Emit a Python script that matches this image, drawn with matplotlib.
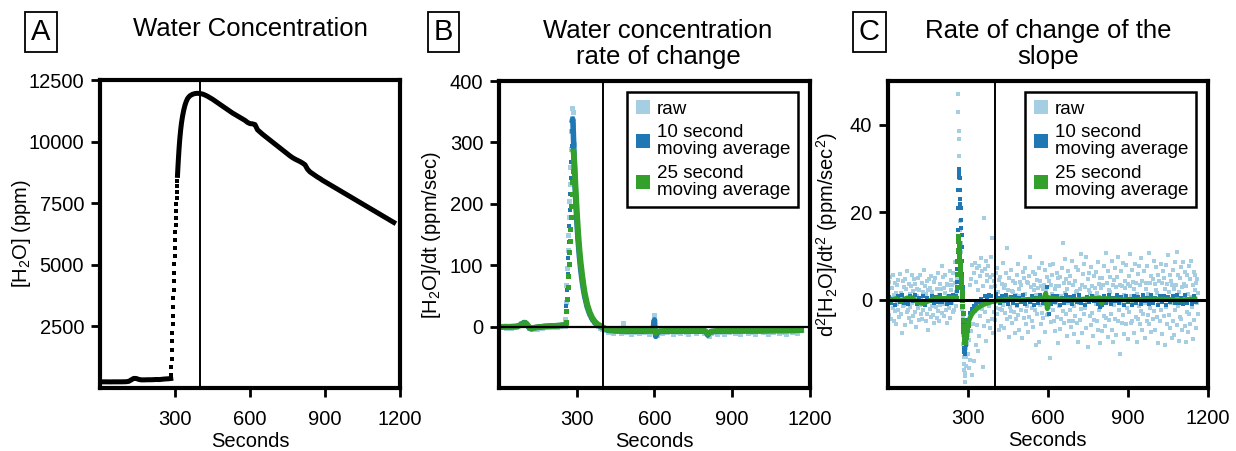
import numpy as np
from matplotlib import pyplot as plt
from matplotlib.lines import Line2D

plt.rcParams['font.family'] = 'Liberation Sans'
plt.rcParams['mathtext.fontset'] = 'custom'
plt.rcParams['mathtext.rm'] = 'Liberation Sans'
plt.rcParams['mathtext.default'] = 'regular'

LIGHT = '#a6cee3'
BLUE = '#1f78b4'
GREEN = '#33a02c'

# ---------------- A: water concentration (ppm) ----------------
a_flat_sec = [5, 15, 25, 35, 45, 55, 65, 75, 85, 95, 105, 115, 125, 135, 145,
              155, 165, 175, 185, 195, 205, 215, 225, 235, 245, 255, 265, 275, 283]
a_flat_ppm = [250, 250, 250, 248, 248, 250, 250, 250, 250, 252, 255, 270, 330, 390, 385,
              350, 330, 330, 333, 335, 335, 340, 345, 342, 350, 362, 370, 375, 385]

# fast rise, one reading per second
a_rise_sec = list(range(284, 311))
a_rise_ppm = [530, 850, 1190, 1540, 1890, 2240, 2590, 2940, 3290, 3640,
              3990, 4340, 4680, 5020, 5360, 5690, 6010, 6320, 6620, 6910,
              7190, 7460, 7720, 7970, 8200, 8420, 8630]

a_curve_sec = ([310, 312, 314, 316, 318, 320, 323, 326, 330, 335, 340, 345, 350,
                355, 360, 370, 380, 390] + list(range(400, 1171, 10)) + [1175])
a_curve_ppm = [8630, 9010, 9360, 9680, 9960, 10200, 10510, 10760, 11020, 11280, 11480,
               11630, 11740, 11810, 11860, 11920, 11950, 11960,
               11950, 11930, 11890, 11840, 11780, 11720, 11650, 11580, 11510, 11440,
               11370, 11300, 11230, 11160, 11100, 11040, 10980, 10920, 10860, 10780,
               10730, 10720, 10690, 10480, 10390, 10300, 10220, 10140, 10060, 9980,
               9900, 9820, 9740, 9660, 9580, 9500, 9420, 9350, 9290, 9240,
               9190, 9130, 9060, 8880, 8770, 8700, 8630, 8560, 8500, 8430,
               8370, 8310, 8250, 8190, 8130, 8070, 8010, 7950, 7890, 7830,
               7770, 7710, 7650, 7590, 7530, 7470, 7410, 7350, 7290, 7230,
               7170, 7110, 7050, 6990, 6930, 6870, 6810, 6750,
               6720]

# ---------------- B: first derivative (ppm/sec) ----------------
b_raw_sec = np.concatenate([np.arange(5, 255, 10), np.arange(252, 301, 2),
                            np.arange(304, 401, 4), np.arange(410, 1161, 10)])
b_raw_pre = [-1.2, 1.6, -2.3, 0.4, -1.7, 1.1, -0.6, 3.2, 5.4, 7.6, 4.3, -2.2, -4.6, -1.3, -3.1,
             0.2, -2.4, 1.7, -1.1, 2.3, -0.7, 2.6, -0.2, 3.3, 1.4]
b_raw_rise = [2, 1, 12, 40, 68, 95, 125, 150, 178, 205, 232, 260, 290, 318, 340,
              356, 350, 330, 298, 262, 238, 222, 205, 188, 172]
b_raw_decay = [150, 130, 112, 97, 84, 72, 61, 51, 43, 36, 30, 25, 20, 16, 13,
               10, 8, 5, 4, 1, 2, -2, -1, -4, -3]
b_raw_post = [-6.3, -9.1, -4.4, -10.8, -7.2, -3.5, -9.7, 5.2, -8.4, -5.6,
              -11.7, -4.8, -8.3, -10.2, -4.1, -9.4, -6.6, -11.3, -5.9, 18.2,
              -13.8, -7.7, -11.1, -5.3, -8.8, -6.9, -12.2, -5.7, -8.2, -10.1,
              -4.6, -9.3, -11.8, -7.4, -3.9, -10.5, -7.8, -6.1, -10.9, -8.6,
              -14.6, -9.8, -6.8, -11.4, -5.2, -8.1, -12.3, -6.4, -9.2, -4.3,
              -10.3, -7.3, -11.9, -7.9, -5.1, -10.7, -6.2, -9.0, -12.8, -7.1,
              -4.2, -9.6, -8.4, -11.6, -6.3, -8.9, -5.4, -10.9, -7.4, -8.1,
              -11.5, -5.3, -8.7, -6.8, -9.9, -5.8]

b10_base_sec = [6, 20, 40, 60, 70, 80, 90, 95, 100, 105, 110, 115, 120, 125, 130,
                140, 160, 180, 200, 220, 240, 250, 256]
b10_base = [-0.5, 0, -0.5, 0, 0.5, 2.5, 5, 6.5, 6.5, 4.5, 1.5, -1.5, -3, -3.5, -2.5,
            -1.5, -0.5, 0.5, 1, 1.5, 2, 2.5, 3]
b10_rise_sec = np.arange(258, 283, 2)
b10_rise = [8, 34, 60, 86, 112, 138, 164, 190, 216, 242, 268, 294, 318]
b10_tail_sec = [283, 284, 285, 286, 288, 290, 292, 295, 300, 305,
                310, 315, 320, 325, 330, 340, 350, 360, 370, 380,
                390, 400, 420, 450, 500, 550, 590, 595, 598, 600,
                602, 605, 608, 612, 620, 650, 700, 750, 795, 802,
                806, 810, 818, 850, 900, 950, 1000, 1050, 1100, 1160, 1165]
b10_tail = [336, 338, 333, 322, 296, 268, 243, 212, 172, 140,
            114, 93, 76, 62, 50, 32, 20, 12, 6.5, 3,
            0.5, -2, -6, -7, -7.5, -7.5, -7, -3, 6, 11,
            -4, -16, -12, -9, -8, -7.5, -7.5, -7.5, -7.5, -10,
            -14, -11, -8.5, -7.5, -7, -7, -7, -6.5, -6.5, -6, -6]

b25_base_sec = [12, 20, 30, 40, 50, 60, 70, 80, 90, 95, 100, 105, 110, 115, 120,
                125, 130, 140, 150, 160, 170, 180, 190, 200, 210, 220, 230, 240, 250, 256]
b25_base = [-0.5, -0.5, -0.3, -0.3, 0, 0, 0.5, 2, 4.5, 5.5, 6, 5, 2.5, -0.5, -2.5,
            -3, -2.5, -1.5, -1, -0.5, 0, 0.3, 0.5, 0.8, 1, 1.2, 1.5, 2, 2.5, 3]
b25_rise_sec = np.arange(258, 287, 2)
b25_rise = [8, 26, 45, 64, 83, 102, 121, 140, 159, 178, 197, 216, 235, 254, 272]
b25_tail_sec = [287, 288, 290, 292, 295, 300, 305, 310, 315, 320,
                325, 330, 340, 350, 360, 370, 380, 390, 400, 410,
                420, 440, 470, 500, 550, 590, 597, 600, 604, 608,
                614, 620, 640, 700, 760, 795, 802, 807, 812, 820,
                840, 900, 960, 1020, 1080, 1140, 1167]
b25_tail = [285, 283, 270, 254, 228, 188, 154, 126, 104, 86,
            70, 56, 36, 23, 14, 8, 4, 1.5, -1, -3,
            -5, -6, -6.5, -6.5, -6.5, -6.5, -5.5, -6, -11, -9,
            -8, -7.5, -7, -7, -7, -7, -9.5, -12, -10, -8,
            -7, -7, -6.5, -6.5, -6, -6, -5.5]

# ---------------- C: second derivative (ppm/sec^2) ----------------
c_raw_sec = np.concatenate([np.arange(1, 261, 2), np.arange(261, 300),
                            np.arange(301, 1166, 2)])
c_raw_pre = [2.3, -3.4, 4.1, -0.6, 5.2, -4.3, 0.4, 2.7, -1.8, 5.6,
             -4.7, 1.2, -2.6, 3.8, 1.5, -5.6, 3.3, -0.9, 4.6, -2.2,
             0.7, -3.8, 5.9, 1.6, -3.1, 0.8, -7.6, 4.4, -1.4, 2.9,
             -1.2, 4.7, -5.8, 2.4, -0.3, -2.7, 6.6, -2.3, 3.7, -4.2,
             1.3, -1.6, 3.2, -5.1, 5.7, -0.7, 2.1, -3.6, 4.8, 0.2,
             -2.8, 3.6, -6.2, 0.9, 2.6, -1.9, 4.9, -4.6, 2.2, -1.1,
             5.8, -3.2, 0.3, 3.9, -4.4, 1.8, -2.4, 6.8, -0.8, 3.1,
             -4.9, 1.4, 4.3, -3.3, 2.3, -6.9, 4.7, -0.2, -2.1, 2.8,
             -3.9, 5.5, -1.3, 1.9, -3.4, 4.2, -5.3, 0.6, 4.9, -1.7,
             -0.4, 2.6, -4.1, 6.1, -2.5, 1.1, -4.8, 3.7, -1.2, 2.4,
             7.8, -2.9, 5.3, -0.9, 2.7, -3.7, 1.6, 5.8, -2.3, 0.5,
             3.6, -5.2, 0.8, 3.4, -1.8, 6.7, -4.2, 2.2, 4.6, -0.7,
             3.3, -2.8, 6.2, 0.3, -2.4, 3.8, 8.6, -1.3, 1.7, 4.8]
c_raw_spike = [4, 9, 47, 43, 38.5, 36.8, 32.8, 27.8, 23, 21,
               18, 16, 13, 11, 8, 6, 3, 1, -2, -4,
               -6, -8, -10, -12, -13, -14.7, -16, -17.4, -18.8, -16.6,
               -12.8, -15, -11, -13, -9, -7, -10, -5, -8]
c_raw_post = [-12.3, -15.6, -9.1, 3.4, -13.8, 4.7, -7.2, -17.1, 7.9, -5.5,
              -13.9, 6.2, -2.6, 8.5, -10.4, 4.1, -5.8, 7.3, -11.6, 2.2,
              7.8, -8.3, 5.4, -3.6, 9.5, -2.1, 6.6, -15.3, 3.2, 18.6,
              -5.9, 7.1, -2.7, 8.8, -9.3, 4.4, 5.6, -4.8, 7.7, -1.5,
              5.2, -6.5, 2.9, 9.8, -4.3, 14.1, -7.6, 5.7, -2.8, 4.3,
              3.2, -4.5, 6.1, -1.8, 7.4, -3.3, 1.9, -6.8, 4.6, -2.1,
              5.3, -0.4, -5.9, 3.7, -2.2, 8.5, -1.1, 2.8, -6.3, 3.4,
              -2.9, 6.2, 11.8, -4.4, 0.6, 2.3, -8.5, 5.1, -1.6, -3.8,
              6.9, -2.5, 2.1, -5.2, 4.4, 1.7, -2.8, 3.9, -7.6, 1.2,
              -4.3, 5.8, -1.4, 8.2, -3.5, 2.6, -6.9, 4.1, 0.8, -2.3,
              3.5, -8.8, 6.3, -0.2, 4.9, -4.1, 1.4, 7.3, -2.6, -5.5,
              4.2, -1.3, 3.8, -7.4, 5.5, -3.9, 9.7, -0.5, 2.9, -4.8,
              -1.9, 6.4, -6.1, 2.2, 3.3, -2.4, 5.9, -10.3, 1.1, 4.5,
              -3.2, 2.8, 7.3, -9.5, -1.2, 4.3, -5.4, 3.1, 8.4, -2.9,
              2.6, -4.2, 3.4, -0.9, 6.8, -7.3, 2.2, -3.5, 5.2, 0.1,
              -3.3, 4.4, -1.6, 7.9, -13.2, 3.5, -5.1, 1.3, 5.8, -2.4,
              8.3, -4.8, 2.5, -7.2, 3.1, -0.6, 6.2, -3.9, -9.8, 4.9,
              -1.4, 3.2, -6.6, 5.3, 0.9, -4.4, 7.2, 13.0, -2.5, 3.8,
              -5.2, 1.6, 9.4, -3.1, 4.8, -8.3, 2.4, -0.8, 6.5, -4.7,
              3.9, -2.3, 5.5, -6.2, 0.4, 8.8, -4.9, 3.3, -1.5, -7.8,
              4.4, -3.6, 7.5, 1.9, -5.3, 2.1, -9.7, 6.9, -0.7, 2.6,
              -4.6, 10.6, -2.1, 3.4, -7.5, 5.9, 0.2, -3.3, 8.1, -1.8,
              2.9, -6.4, 9.9, -0.3, 4.7, -10.8, 2.3, 6.1, -3.6, 1.5,
              -5.8, 7.6, -2.9, 3.2, -8.2, 0.8, 5.4, -4.5, 2.7, -0.9,
              6.3, -4.9, 1.5, 8.7, -6.8, 3.6, -2.3, 5.1, -9.9, 2.8,
              -1.3, 4.9, -7.1, 3.3, 7.8, -3.7, 0.5, -5.9, 10.8, -4.1,
              3.8, -0.5, 6.6, -8.4, 2.2, -4.6, 5.3, 1.9, -3.2, 8.9,
              -6.8, 3.3, -9.6, 4.5, -1.1, 7.4, -4.3, 2.9, -7.9, 5.2,
              0.6, -4.8, 9.8, -2.4, 3.5, -12.4, 6.5, -0.6, 3.1, -5.3,
              8.5, -3.4, 1.2, -7.8, 4.3, 2.7, -5.6, 7.9, -1.9, 3.6,
              -8.9, 5.4, -2.8, 3.2, 10.5, -5.2, 0.9, -4.7, 6.8, -0.3,
              4.1, -7.5, 2.6, 8.3, -3.9, 3.8, -9.6, 1.4, 5.9, -4.4,
              -1.5, 7.8, -5.6, 3.4, -2.6, 9.6, -6.8, 4.4, 0.7, -3.2,
              6.6, -0.8, -8.7, 3.9, 2.4, -4.9, 7.7, -3.4, 1.3, 10.7,
              -5.4, 3.9, -1.8, 5.5, -7.3, 0.4, 4.8, -4.4, 8.8, -2.5,
              3.6, -6.9, 2.2, 7.5, -3.8, 1.6, -9.8, 5.7, -0.4, 4.3,
              -4.9, 8.2, -2.4, 3.9, -7.7, 6.5, 0.8, -3.6, 4.9, -10.4,
              2.4, -1.6, 7.9, -5.4, 3.7, 10.2, -3.5, 1.8, -6.4, 5.7,
              -0.6, 4.3, -8.6, 3.5, 6.9, -4.8, 2.5, -7.9, 8.6, -2.3,
              3.4, -5.7, 11.0, -1.3, 5.8, -9.3, 1.7, 4.9, -3.8, 7.5,
              -4.3, 2.9, -6.8, 8.6, -0.8, 3.6, -5.9, 6.4, -9.6, 3.2,
              5.6, -2.8, 1.4, -7.3, 7.8, -3.3, 4.7, -5.5, 0.6, 8.8,
              -1.7, 3.5, -8.9, 6.4, -4.6, 2.3, 5.8, -6.5, 3.9, -0.6,
              4.8, -3.3, 1.6]

c10_sec = np.concatenate([np.arange(4, 256, 8), np.arange(256, 300),
                          np.arange(300, 1157, 8)])
c10_pre = [0.6, -0.8, 0.3, -1.1, 0.9, -0.4, 1.2, -0.7, 0.2, -1.0,
           0.8, -0.3, 1.1, -0.9, 0.5, -0.6, 1.0, -1.2, 0.4, -0.2,
           0.9, -0.8, 0.7, -0.5, 1.2, -0.4, 0.3, -1.0, 0.8, -0.6,
           1.1, 0.2]
c10_spike = [0.5, 1, 2, 4, 7, 11, 16, 21, 25, 28,
             29.5, 30, 29, 27.8, 25, 23, 22, 21, 18.3, 16.4,
             14.8, 12, 9, 6, 3, 0, -3, -5.5, -7.5, -9.5,
             -11, -12, -12.4, -12, -11.2, -10.3, -9.5, -8.7, -8, -7.3,
             -6.7, -6.1, -5.6, -5.1]
c10_post = [-4.6, -3.0, -2.0, -1.4, -0.9, -0.5, 0.2, -0.6, 0.9, 0.3,
            1.2, 1.0, -0.4, 1.3, 0.5, -0.8, 0.9, -0.3, 1.1, -1.0,
            0.6, -0.7, 1.0, -1.2, 0.4, -0.5, 1.1, -0.9, 0.3, -0.4,
            0.8, -1.1, 0.5, -0.6, 1.2, -0.8, 0.7, 3.0, -3.3, -0.9,
            1.0, -0.5, 0.8, -1.2, 0.4, -0.7, 1.1, -0.3, 0.6, -1.0,
            0.9, -0.4, 1.2, -0.8, 0.3, -1.1, 0.7, -0.5, 1.0, -0.2,
            0.5, -0.9, -1.6, -1.2, 0.8, -0.6, 1.1, -1.0, 0.4, -0.3,
            1.2, -0.8, 0.6, -1.1, 0.9, -0.4, 0.3, -1.2, 1.0, -0.6,
            0.7, -1.0, 1.1, -0.3, 0.5, -0.9, 1.2, -0.7, 0.4, -1.1,
            0.8, -0.5, 1.0, -1.2, 0.6, -0.4, 0.9, -0.8, 1.1, -0.6,
            0.5, -1.0, 1.2, -0.7, 0.3, -0.9, 0.8, -0.4]

c25_base_sec = [13, 30, 50, 70, 90, 110, 130, 150, 170, 190, 210, 230, 250, 256]
c25_base = [0, 0.3, -0.2, 0.4, 0.5, -0.5, -0.8, -0.3, 0.2, 0.4, 0.3, 0.5, 0.4, 0.5]
c25_spike_sec = np.arange(257, 300)
c25_spike = [0.5, 3, 6, 9, 11.5, 13.5, 14.5, 14, 13, 12,
             11, 10, 9, 8, 7, 6, 5, 4, 3, 2,
             1, 0, -1.5, -3, -4.5, -6, -7, -8, -8.8, -9.3,
             -9.6, -9.5, -9.2, -8.8, -8.4, -8, -7.6, -7.2, -6.8, -6.5,
             -6.2, -5.9, -5.7]
c25_tail_sec = [300, 305, 310, 315, 320, 330, 340, 350, 360, 370,
                380, 390, 400, 450, 500, 550, 585, 592, 598, 604,
                620, 700, 795, 802, 810, 900, 1000, 1100, 1152]
c25_tail = [-5.5, -4.5, -3.8, -3.2, -2.8, -2.2, -1.7, -1.3, -1.0, -0.8,
            -0.6, -0.4, -0.3, 0.2, 0, 0.2, 0.3, 1.5, -2, 0.5,
            0.3, 0, 0.5, -0.8, 0.3, 0, 0.2, 0, 0.2]

legend_labels = ['raw', '10 second\nmoving average', '25 second\nmoving average']


def style(ax, yticks, ylim):
    ax.set_xlim(0, 1200)
    ax.set_ylim(*ylim)
    ax.set_xticks([300, 600, 900, 1200])
    ax.set_yticks(yticks)
    for s in ax.spines.values():
        s.set_linewidth(3)
    ax.tick_params(direction='out', length=6.5, width=2, labelsize=14.5, pad=5)
    ax.tick_params(axis='x', pad=9)
    ax.set_xlabel('Seconds', fontsize=14.5, labelpad=2.5)


def add_legend(ax):
    handles = [Line2D([], [], marker='s', ls='none', ms=10, mew=0, color=c)
               for c in (LIGHT, BLUE, GREEN)]
    leg = ax.legend(handles, legend_labels, loc='upper right', fontsize=13.5,
                    fancybox=False, edgecolor='black', framealpha=1,
                    borderpad=0.45, handlelength=0.8, handletextpad=0.35,
                    labelspacing=0.35, borderaxespad=0.6)
    leg.get_frame().set_linewidth(1.8)
    for t in leg.get_texts():
        t.set_linespacing(1.0)


fig = plt.figure(figsize=(12.36, 4.51), dpi=100)
W, H = 1236, 451
axA = fig.add_axes([100 / W, 63 / H, 300 / W, 308 / H])
axB = fig.add_axes([499.2 / W, 63 / H, 310.5 / W, 307 / H])
axC = fig.add_axes([888 / W, 63.5 / H, 319.7 / W, 306.5 / H])

# A
axA.plot(a_flat_sec, a_flat_ppm, color='k', lw=3.6)
axA.plot(a_rise_sec, a_rise_ppm, 's', color='k', ms=3.4, mew=0)
axA.plot(a_curve_sec, a_curve_ppm, color='k', lw=3.6)
axA.axvline(400, color='k', lw=1.4)
style(axA, [2500, 5000, 7500, 10000, 12500], (0, 12500))
axA.set_ylabel('[H$_2$O] (ppm)', fontsize=14.5)
axA.yaxis.set_label_coords(-0.223, 0.5)

# B
b_raw = b_raw_pre + b_raw_rise + b_raw_decay + b_raw_post
axB.plot(b_raw_sec, b_raw, 's', color=LIGHT, ms=3.6, mew=0)
axB.plot(b10_base_sec, b10_base, color=BLUE, lw=4)
axB.plot(b10_rise_sec, b10_rise, 's', color=BLUE, ms=3.4, mew=0)
axB.plot(b10_tail_sec, b10_tail, color=BLUE, lw=4)
axB.plot(b25_base_sec, b25_base, color=GREEN, lw=4.2)
axB.plot(b25_rise_sec, b25_rise, 's', color=GREEN, ms=3.6, mew=0)
axB.plot(b25_tail_sec, b25_tail, color=GREEN, lw=4.2)
axB.axhline(0, color='k', lw=1.6)
axB.axvline(400, color='k', lw=1.4)
style(axB, [0, 100, 200, 300, 400], (-100, 400))
axB.set_ylabel('[H$_2$O]/dt (ppm/sec)', fontsize=14.5)
axB.yaxis.set_label_coords(-0.181, 0.5)
add_legend(axB)

# C
c_raw = c_raw_pre + c_raw_spike + c_raw_post
c10 = c10_pre + c10_spike + c10_post
axC.plot(c_raw_sec, c_raw, 's', color=LIGHT, ms=3.4, mew=0)
axC.plot(c10_sec, c10, 's', color=BLUE, ms=3.3, mew=0)
axC.plot(c25_base_sec, c25_base, color=GREEN, lw=3.6)
axC.plot(c25_spike_sec, c25_spike, 's', color=GREEN, ms=3.6, mew=0)
axC.plot(c25_tail_sec, c25_tail, color=GREEN, lw=3.6)
axC.axhline(0, color='k', lw=2.2)
axC.axvline(400, color='k', lw=1.4)
style(axC, [0, 20, 40], (-20, 50))
axC.set_ylabel('d$^2$[H$_2$O]/dt$^2$ (ppm/sec$^2$)', fontsize=14.5)
axC.yaxis.set_label_coords(-0.150, 0.5)
add_legend(axC)

# titles and panel letters
fig.text(250 / W, 1 - 36 / H, 'Water Concentration', ha='center', va='baseline', fontsize=18.5)
fig.text(658 / W, 1 - 64 / H, 'Water concentration\nrate of change', ha='center',
         va='baseline', fontsize=18.5, linespacing=1.1)
fig.text(1048 / W, 1 - 64 / H, 'Rate of change of the\nslope', ha='center',
         va='baseline', fontsize=18.5, linespacing=1.1)
for x, letter in [(41, 'A'), (443.7, 'B'), (869.5, 'C')]:
    fig.text(x / W, 1 - 32 / H, letter, ha='center', va='center', fontsize=21,
             bbox=dict(boxstyle='square,pad=0.2', fc='white', ec='black', lw=1.3))

fig.savefig('out.png', dpi=100)
